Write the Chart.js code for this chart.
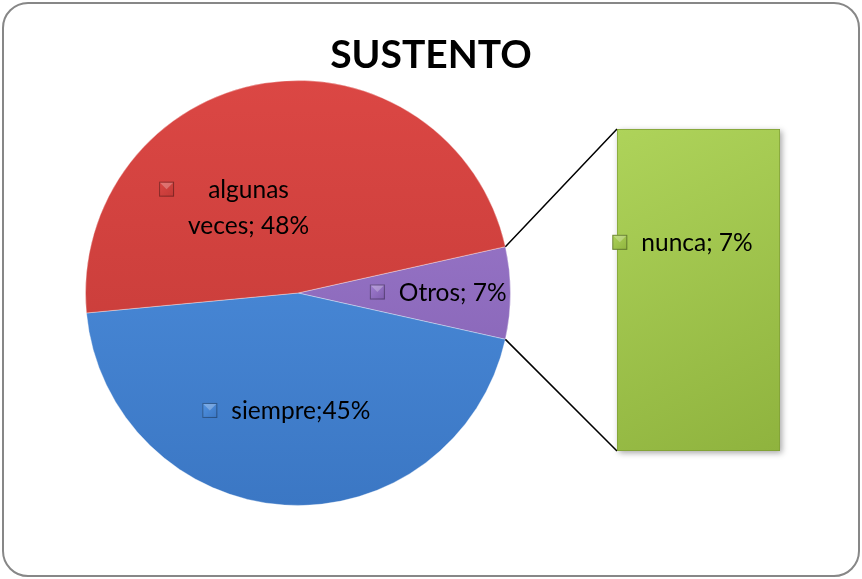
<!DOCTYPE html>
<html>
<head>
<meta charset="utf-8">
<script src="https://cdn.jsdelivr.net/npm/chart.js@4.4.1/dist/chart.umd.min.js"></script>
<style>
    html, body { margin: 0; padding: 0; background: #fff; }
    #frame { position: relative; width: 862px; height: 579px; overflow: hidden; }
    #border { position: absolute; left: 2px; top: 2px; width: 854px; height: 571px;
              border: 2px solid #878787; border-radius: 26px; }
    #pieChart { position: absolute; left: 0; top: 0; }
    #barChart { position: absolute; left: 560px; top: 100px; }
</style>
</head>
<body>
<div id="frame">
    <div id="border"></div>
    <canvas id="pieChart" width="862" height="579"></canvas>
    <canvas id="barChart" width="280" height="380"></canvas>
</div>
<script>
// pie part, clockwise from the right side
const pieLabels = ["Otros", "siempre", "algunas veces"];
const pieValues = [7, 45, 48];
// the "Otros" slice broken out into the bar
const barLabels = ["nunca"];
const barValues = [7];

const chartTitle = "SUSTENTO";
const labelFont = "Lato, 'Liberation Sans', sans-serif";

const pieColors = {
    "Otros": ["#a07ed0", "#7f5cae"],
    "siempre": ["#5193e2", "#3b77c4"],
    "algunas veces": ["#db4744", "#c03835"]
};
const barColors = ["#aed35a", "#8fb33e"];

// where each label sits inside its slice: angle offset (deg) and fraction of radius
const labelSpots = {
    "Otros": { da: 0, r: 0.66, lines: ["Otros; 7%"] },
    "siempre": { da: 2, r: 0.56, lines: ["siempre;45%"] },
    "algunas veces": { da: -28, r: 0.5, lines: ["algunas", "veces; 48%"] }
};

function keySquare(ctx, x, y, color) {
    const s = 15;
    ctx.save();
    const g = ctx.createLinearGradient(x, y, x + s, y + s);
    g.addColorStop(0, color[0]);
    g.addColorStop(1, color[1]);
    ctx.fillStyle = g;
    ctx.fillRect(x, y, s, s);
    ctx.strokeStyle = "rgba(0,0,0,0.35)";
    ctx.lineWidth = 1;
    ctx.strokeRect(x + 0.5, y + 0.5, s - 1, s - 1);
    ctx.fillStyle = "rgba(255,255,255,0.25)";
    ctx.beginPath();
    ctx.moveTo(x + 1, y + 1);
    ctx.lineTo(x + s - 1, y + 1);
    ctx.lineTo(x + s / 2, y + s / 2);
    ctx.closePath();
    ctx.fill();
    ctx.restore();
}

function drawLabel(ctx, cx, cy, lines, color) {
    ctx.save();
    ctx.font = "24.5px " + labelFont;
    ctx.fillStyle = "#000";
    ctx.textBaseline = "middle";
    ctx.textAlign = "center";
    const lh = 36;
    const widths = lines.map(l => ctx.measureText(l).width);
    const maxW = Math.max(...widths);
    const gap = 14, key = 15;
    const total = key + gap + maxW;
    const left = cx - total / 2;
    const textCx = left + key + gap + maxW / 2;
    const top = cy - (lines.length - 1) * lh / 2;
    lines.forEach((l, i) => ctx.fillText(l, textCx, top + i * lh));
    keySquare(ctx, left, top - key / 2 - 1, color);
    ctx.restore();
}

const barChart = new Chart(document.getElementById("barChart"), {
    type: "bar",
    data: {
        labels: [""],
        datasets: barLabels.map((name, i) => ({
            label: name,
            data: [barValues[i]],
            backgroundColor: function (context) {
                const area = context.chart.chartArea;
                if (!area) return barColors[0];
                const g = context.chart.ctx.createLinearGradient(area.left, area.top, area.right, area.bottom);
                g.addColorStop(0, barColors[0]);
                g.addColorStop(1, barColors[1]);
                return g;
            },
            borderColor: "#7d9c34",
            borderWidth: 1,
            borderSkipped: false,
            barPercentage: 1,
            categoryPercentage: 1
        }))
    },
    options: {
        responsive: false,
        animation: false,
        devicePixelRatio: 1,
        layout: { padding: { left: 57, top: 29, right: 60, bottom: 29 } },
        plugins: { legend: { display: false }, tooltip: { enabled: false } },
        scales: {
            x: { display: false, stacked: true },
            y: { display: false, stacked: true, min: 0, max: barValues.reduce((a, b) => a + b, 0) }
        }
    },
    plugins: [{
        id: "barLabels",
        beforeDatasetsDraw(chart) {
            const bar = chart.getDatasetMeta(0).data[0];
            const ctx = chart.ctx;
            ctx.save();
            ctx.shadowColor = "rgba(0,0,0,0.35)";
            ctx.shadowBlur = 6;
            ctx.shadowOffsetX = 2;
            ctx.shadowOffsetY = 2;
            ctx.fillStyle = "#fff";
            ctx.fillRect(bar.x - bar.width / 2, bar.y, bar.width, bar.base - bar.y);
            ctx.restore();
        },
        afterDraw(chart) {
            const ctx = chart.ctx;
            barLabels.forEach((name, i) => {
                const bar = chart.getDatasetMeta(i).data[0];
                const h = bar.base - bar.y;
                drawLabel(ctx, bar.x - 16, bar.y + h * 0.355, [name + "; " + barValues[i] + "%"], barColors);
            });
        }
    }]
});

const otrosIndex = pieLabels.indexOf("Otros");
const startDeg = -(pieValues[otrosIndex] / 100) * 360 / 2;

new Chart(document.getElementById("pieChart"), {
    type: "pie",
    data: {
        labels: pieLabels,
        datasets: [{
            data: pieValues,
            backgroundColor: function (context) {
                const c = pieColors[pieLabels[context.dataIndex]];
                const area = context.chart.chartArea;
                if (!area) return c[0];
                const g = context.chart.ctx.createLinearGradient(0, area.top, 0, area.bottom);
                g.addColorStop(0, c[0]);
                g.addColorStop(1, c[1]);
                return g;
            },
            borderColor: "rgba(255,255,255,0.35)",
            borderWidth: 1
        }]
    },
    options: {
        responsive: false,
        animation: false,
        devicePixelRatio: 1,
        rotation: 90 + startDeg,
        layout: { padding: { left: 85, right: 351, top: 80, bottom: 73 } },
        plugins: {
            legend: { display: false },
            tooltip: { enabled: false },
            title: { display: false }
        }
    },
    plugins: [{
        id: "pieLabels",
        afterDraw(chart) {
            const ctx = chart.ctx;
            // title centred over the whole canvas
            ctx.save();
            ctx.font = "bold 39px " + labelFont;
            ctx.fillStyle = "#000";
            ctx.textAlign = "center";
            ctx.textBaseline = "middle";
            ctx.fillText(chartTitle, chart.width / 2, 55);
            ctx.restore();

            const arcs = chart.getDatasetMeta(0).data;
            // connector lines from the Otros slice to the bar corners
            const o = arcs[otrosIndex];
            const bar = barChart.getDatasetMeta(0).data[0];
            const offX = barChart.canvas.offsetLeft - chart.canvas.offsetLeft;
            const offY = barChart.canvas.offsetTop - chart.canvas.offsetTop;
            const barLeft = offX + bar.x - bar.width / 2;
            ctx.save();
            ctx.strokeStyle = "#000";
            ctx.lineWidth = 1.5;
            ctx.beginPath();
            ctx.moveTo(o.x + o.outerRadius * Math.cos(o.startAngle), o.y + o.outerRadius * Math.sin(o.startAngle));
            ctx.lineTo(barLeft, offY + bar.y);
            ctx.moveTo(o.x + o.outerRadius * Math.cos(o.endAngle), o.y + o.outerRadius * Math.sin(o.endAngle));
            ctx.lineTo(barLeft, offY + bar.base);
            ctx.stroke();
            ctx.restore();

            arcs.forEach((arc, i) => {
                const spot = labelSpots[pieLabels[i]];
                const mid = (arc.startAngle + arc.endAngle) / 2 + spot.da * Math.PI / 180;
                const r = arc.outerRadius * spot.r;
                drawLabel(ctx, arc.x + r * Math.cos(mid), arc.y + r * Math.sin(mid), spot.lines, pieColors[pieLabels[i]]);
            });
        }
    }]
});
</script>
</body>
</html>
